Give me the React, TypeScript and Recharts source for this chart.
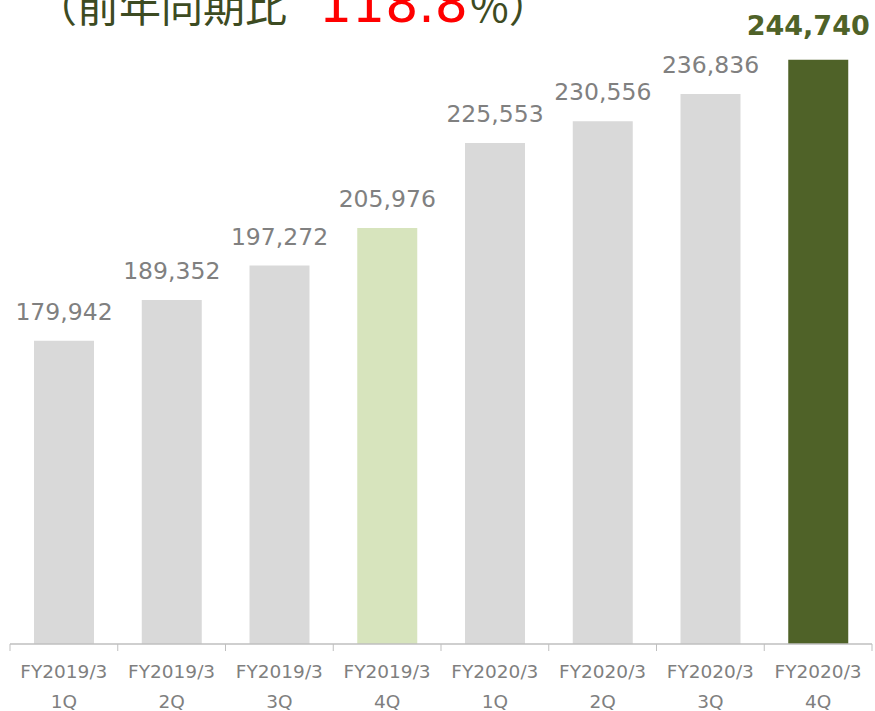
import React from 'react';
import { BarChart, Bar, XAxis, YAxis, Cell, LabelList } from 'recharts';

const periods = ['FY2019/3', 'FY2019/3', 'FY2019/3', 'FY2019/3', 'FY2020/3', 'FY2020/3', 'FY2020/3', 'FY2020/3'];
const quarters = ['1Q', '2Q', '3Q', '4Q', '1Q', '2Q', '3Q', '4Q'];
const values = [179942, 189352, 197272, 205976, 225553, 230556, 236836, 244740];

const titlePrefix = '（前年同期比';
const titleRate = '118.8';
const titleSuffix = '%）';

const data = values.map((v, i) => ({ name: `${periods[i]} ${quarters[i]}`, period: periods[i], quarter: quarters[i], value: v }));

const W = 875;
const H = 711;
const M = { top: 37, right: 3, left: 10, bottom: 0 };
const N = values.length;
const CURRENT = N - 1;
const PRIOR = 3;

const barColor = (i: number) => (i === CURRENT ? '#4f6228' : i === PRIOR ? '#d7e4bd' : '#d9d9d9');

const fmt = (v: number) => v.toLocaleString('en-US');

const Tick = (props: any) => {
  const { x, y, payload, index } = props;
  const band = payload && payload.offset ? payload.offset * 2 : (W - M.left - M.right) / N;
  const half = band / 2;
  const i = payload?.index ?? index;
  return (
    <g>
      <line x1={x - half} x2={x - half} y1={y} y2={y + 7} stroke="#bfbfbf" strokeWidth={1} />
      {index === N - 1 && <line x1={x + half} x2={x + half} y1={y} y2={y + 7} stroke="#bfbfbf" strokeWidth={1} />}
      <text x={x} y={y + 34} textAnchor="middle" fill="#7f7f7f" fontSize={18.5} fontFamily="DejaVu Sans">
        {periods[i]}
      </text>
      <text x={x} y={y + 64} textAnchor="middle" fill="#7f7f7f" fontSize={18.5} fontFamily="DejaVu Sans">
        {quarters[i]}
      </text>
    </g>
  );
};

const ValueLabel = (props: any) => {
  const { x, y, width, value, index } = props;
  const cx = x + width / 2;
  if (index === CURRENT) {
    return (
      <text x={cx - 10} y={y - 25} textAnchor="middle" fill="#4f6228" fontSize={27} fontWeight="bold" fontFamily="DejaVu Sans">
        {fmt(value)}
      </text>
    );
  }
  return (
    <text x={cx} y={y - 21} textAnchor="middle" fill="#808080" fontSize={23.5} fontFamily="DejaVu Sans">
      {fmt(value)}
    </text>
  );
};

export default function App() {
  return (
    <div style={{ position: 'absolute', left: 0, top: 0, width: W, height: H, background: '#fff', overflow: 'hidden' }}>
      <svg width={W} height={60} style={{ position: 'absolute', left: 0, top: 0 }}>
        <text y={22} fontSize={42} fill="#3d4b22">
          <tspan x={35} fontFamily="'Noto Sans CJK JP'">{titlePrefix}</tspan>
          <tspan x={319} fill="#ff0000" fontSize={52} fontFamily="DejaVu Sans">{titleRate}</tspan>
          <tspan x={470} fontFamily="'Noto Sans CJK JP'">{titleSuffix}</tspan>
        </text>
      </svg>
      <BarChart width={W} height={H} data={data} margin={M} barCategoryGap={0}>
        <YAxis hide domain={[110000, 250000]} />
        <XAxis
          dataKey="name"
          height={67}
          interval={0}
          tickLine={false}
          tickSize={0}
          tickMargin={0}
          axisLine={{ stroke: '#bfbfbf', strokeWidth: 1.5 }}
          tick={<Tick />}
        />
        <Bar dataKey="value" barSize={60} isAnimationActive={false}>
          {data.map((d, i) => (
            <Cell key={d.name + i} fill={barColor(i)} />
          ))}
          <LabelList dataKey="value" content={<ValueLabel />} />
        </Bar>
      </BarChart>
    </div>
  );
}
